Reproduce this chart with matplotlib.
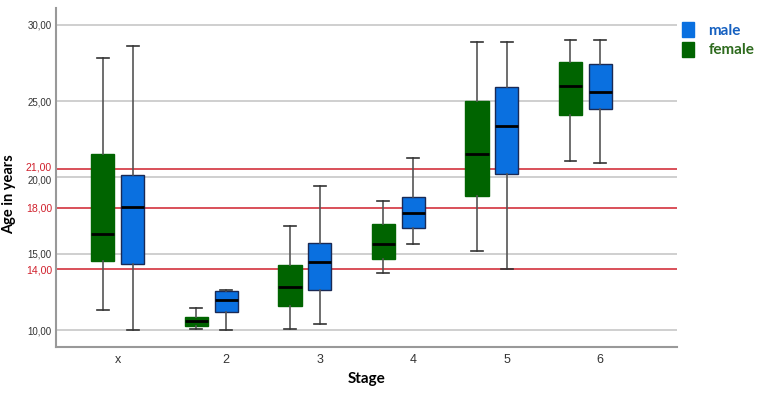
import matplotlib
matplotlib.use("Agg")
import matplotlib.pyplot as plt
import matplotlib.transforms as mtransforms
from matplotlib.patches import Patch

stages = ["x", "2", "3", "4", "5", "6"]

female_low = [11.3, 10.04, 10.1, 13.76, 15.16, 21.06]
female_q1 = [14.55, 10.26, 11.6, 14.68, 18.79, 24.08]
female_med = [16.3, 10.61, 12.84, 15.62, 21.56, 25.98]
female_q3 = [21.54, 10.83, 14.24, 16.95, 25.02, 27.53]
female_high = [27.8, 11.42, 16.84, 18.48, 28.9, 29.0]

male_low = [10.0, 10.0, 10.39, 15.66, 13.98, 20.97]
male_q1 = [14.31, 11.2, 12.6, 16.71, 20.25, 24.49]
male_med = [18.09, 11.95, 14.48, 17.69, 23.36, 25.59]
male_q3 = [20.16, 12.58, 15.7, 18.7, 25.92, 27.44]
male_high = [28.58, 12.62, 19.44, 21.3, 28.9, 29.0]

grid_values = [10, 15, 20, 25, 30]
ref_positions = [14, 18, 20.55]
ref_labels = ["14,00", "18,00", "21,00"]

FEMALE = "#006400"
MALE = "#0A70E0"
RED = "#D0202C"
TICKFONT = "Liberation Sans"
TITLEFONT = "Lato"

fig = plt.figure(figsize=(7.62, 3.97), dpi=100)
ax = fig.add_axes([56 / 762, 1 - 347 / 397, (677 - 56) / 762, (347 - 8) / 397])


def stats(lo, q1, med, q3, hi):
    return [dict(whislo=a, q1=b, med=c, q3=d, whishi=e, fliers=[])
            for a, b, c, d, e in zip(lo, q1, med, q3, hi)]


off = 0.16
width = 0.25
pos = list(range(len(stages)))

common = dict(showfliers=False, patch_artist=True, widths=width,
              whiskerprops=dict(color="#555555", lw=1.2),
              capprops=dict(color="#333333", lw=1.2),
              medianprops=dict(color="black", lw=2), zorder=3)

ax.bxp(stats(female_low, female_q1, female_med, female_q3, female_high),
       positions=[p - off for p in pos],
       boxprops=dict(facecolor=FEMALE, edgecolor=FEMALE, lw=1), **common)
ax.bxp(stats(male_low, male_q1, male_med, male_q3, male_high),
       positions=[p + off for p in pos],
       boxprops=dict(facecolor=MALE, edgecolor="#1A2A55", lw=1), **common)

for g in grid_values:
    ax.axhline(g, color="#CCCCCC", lw=1.3, zorder=1)
for r in ref_positions:
    ax.axhline(r, color=RED, lw=1.1, zorder=2)

ax.set_xlim(-0.66, 5.98)
ax.set_ylim(8.89, 31.1)

tick_pos = [0] + [p + off for p in pos[1:]]
ax.set_xticks(tick_pos)
ax.set_xticklabels(stages, fontsize=9, color="#333333", family=TICKFONT)
ax.tick_params(axis="x", length=0, pad=5)

ylabels = ["%d,00" % v for v in grid_values]
ax.set_yticks(grid_values + ref_positions)
ax.set_yticklabels(ylabels + ref_labels, family=TICKFONT)
ax.tick_params(axis="y", length=0, pad=3)
fig.canvas.draw()
for lbl in ax.get_yticklabels():
    txt = lbl.get_text()
    if txt in ref_labels:
        lbl.set_color(RED)
        lbl.set_fontsize(7.6)
    else:
        lbl.set_color("#333333")
        lbl.set_fontsize(7.0)
    if txt == "21,00":
        lbl.set_transform(lbl.get_transform() +
                          mtransforms.ScaledTranslation(0, 1.5 / 72, fig.dpi_scale_trans))
    if txt == "20,00":
        lbl.set_transform(lbl.get_transform() +
                          mtransforms.ScaledTranslation(0, -1.5 / 72, fig.dpi_scale_trans))

for s in ["top", "right"]:
    ax.spines[s].set_visible(False)
for s in ["left", "bottom"]:
    ax.spines[s].set_color("#999999")
    ax.spines[s].set_linewidth(1.5)

ax.set_xlabel("Stage", fontsize=11, fontweight="bold", labelpad=4, family=TITLEFONT)
fig.text(9 / 762, 1 - 194 / 397, "Age in years", rotation=90, fontsize=10.5,
         fontweight="bold", ha="center", va="center", family=TITLEFONT)

handles = [Patch(facecolor=MALE, edgecolor=MALE), Patch(facecolor=FEMALE, edgecolor=FEMALE)]
leg = fig.legend(handles, ["male", "female"], loc="upper left",
                 bbox_to_anchor=(682 / 762, 1 - 22 / 397), frameon=False,
                 prop=dict(size=11, weight="bold", family=TITLEFONT),
                 handlelength=0.77, handleheight=1.15, handletextpad=0.95,
                 labelspacing=0.25, borderpad=0, borderaxespad=0)
leg.get_texts()[0].set_color("#1560C0")
leg.get_texts()[1].set_color("#2E6B1E")

fig.savefig("out.png", dpi=100)
